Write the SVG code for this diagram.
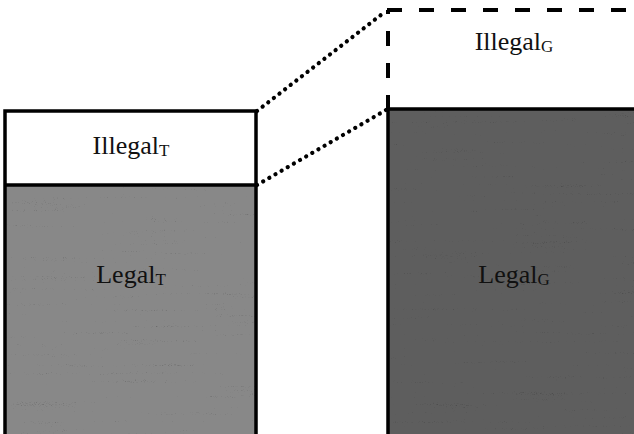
<svg xmlns="http://www.w3.org/2000/svg" width="634" height="434" viewBox="0 0 634 434">
  <style>
    .lbl { font-family: "Liberation Serif", "Times New Roman", serif; font-size: 26px; fill: #111; }
    .sub { font-size: 17px; }
    .frame { fill: none; stroke: #000; stroke-width: 3.5; }
    .dots { fill: none; stroke: #000; stroke-width: 4.2; stroke-linecap: round; stroke-dasharray: 0.1 7; }
    .dash { fill: none; stroke: #000; stroke-width: 4; }
  </style>
  <defs>
    <filter id="grain" x="0" y="0" width="100%" height="100%">
      <feTurbulence type="fractalNoise" baseFrequency="0.9 0.9" numOctaves="2" seed="3" result="n1"/>
      <feTurbulence type="fractalNoise" baseFrequency="0.01 0.25" numOctaves="2" seed="7" result="n2"/>
      <feBlend in="n1" in2="n2" mode="multiply" result="n"/>
      <feColorMatrix in="n" type="matrix" values="0 0 0 0 0  0 0 0 0 0  0 0 0 0 0  0 0 0 -1.6 0.9" result="a"/>
      <feComposite in="a" in2="SourceGraphic" operator="in"/>
    </filter>
  </defs>
  <rect width="634" height="434" fill="#fff"/>

  <g id="connectors">
    <line class="dots" x1="257" y1="111" x2="386" y2="11"/>
    <line class="dots" x1="257" y1="185" x2="386" y2="110"/>
  </g>

  <g id="node-left">
    <rect x="5" y="111" width="251" height="74" fill="#fff"/>
    <rect x="5" y="185" width="251" height="260" fill="#888"/>
    <rect x="5" y="185" width="251" height="260" fill="#000" opacity="0.45" filter="url(#grain)"/>
    <rect class="frame" x="5" y="111" width="251" height="340"/>
    <line class="frame" x1="5" y1="185" x2="256" y2="185"/>
    <text class="lbl" x="131" y="154" text-anchor="middle">Illegal<tspan class="sub" dy="2">T</tspan></text>
    <text class="lbl" x="131" y="283" text-anchor="middle" fill="#1a1a1a">Legal<tspan class="sub" dy="2">T</tspan></text>
  </g>

  <g id="node-right">
    <rect x="388" y="109" width="260" height="340" fill="#5e5e5e"/>
    <rect x="388" y="109" width="260" height="340" fill="#000" opacity="0.45" filter="url(#grain)"/>
    <path class="frame" d="M388,450 V109 H640"/>
    <line class="dash" x1="387" y1="10" x2="640" y2="10" stroke-dasharray="15 17"/>
    <line class="dash" x1="388" y1="110" x2="388" y2="10" stroke-dasharray="15 17"/>
    <text class="lbl" x="514" y="50" text-anchor="middle">Illegal<tspan class="sub" dy="2">G</tspan></text>
    <text class="lbl" x="514" y="283" text-anchor="middle" fill="#2e2e2e">Legal<tspan class="sub" dy="2">G</tspan></text>
  </g>
</svg>
